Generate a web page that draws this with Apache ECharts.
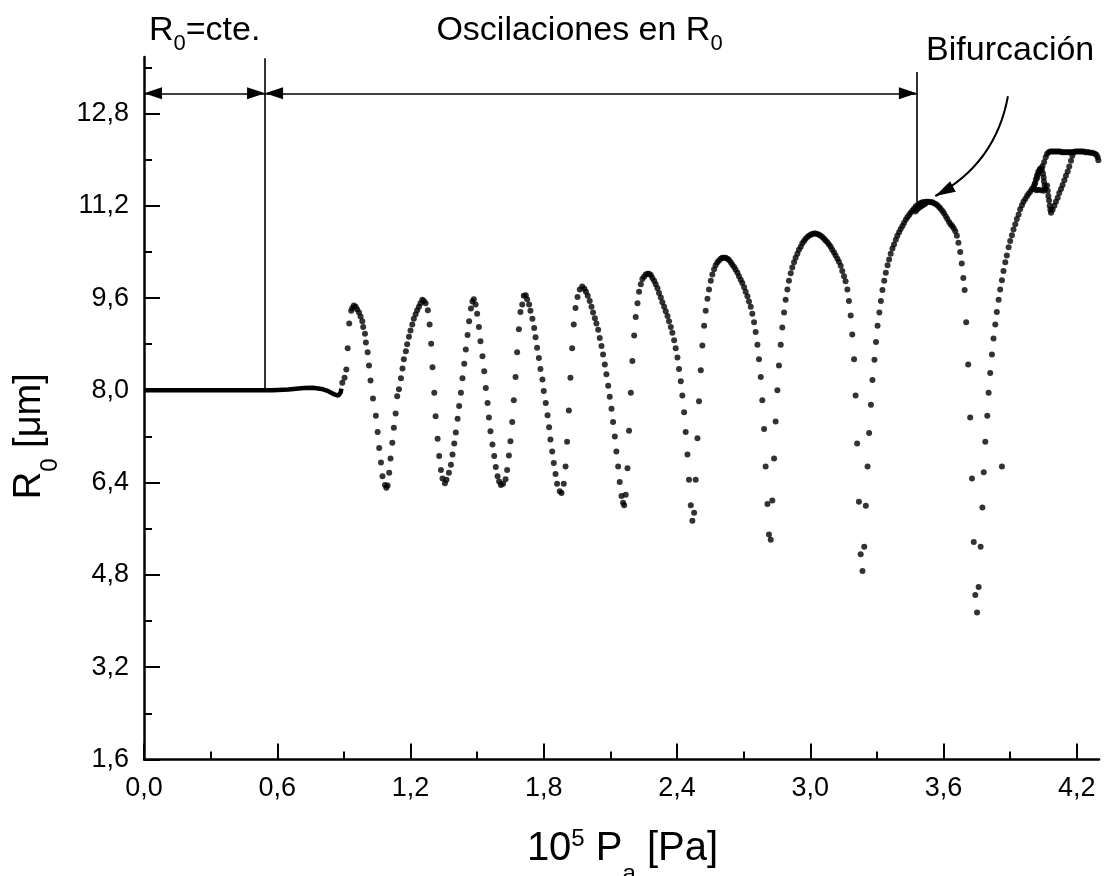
<!DOCTYPE html>
<html>
<head>
<meta charset="utf-8">
<title>R0 vs Pa</title>
<script src="https://cdn.jsdelivr.net/npm/echarts@6.0.0/dist/echarts.min.js"></script>
<style>
html,body{margin:0;padding:0;background:#ffffff;}
#chart{width:1108px;height:876px;}
</style>
</head>
<body>
<div id="chart"></div>
<script>
// ---------- tick values ----------
const xTicks = [0, 0.6, 1.2, 1.8, 2.4, 3.0, 3.6, 4.2];
const xMinorTicks = [0.3, 0.9, 1.5, 2.1, 2.7, 3.3, 3.9];
const yTicks = [1.6, 3.2, 4.8, 6.4, 8.0, 9.6, 11.2, 12.8];
const yMinorTicks = [2.4, 4.0, 5.6, 7.2, 8.8, 10.4, 12.0, 13.6];

// ---------- data (10^5 Pa, R0 in um) ----------
// dense region before the oscillations (points merge into a thick line)
const flatCurve = [[0,8.0],[0.2,8.0],[0.4,8.0],[0.545,8.0],[0.58,8.0],[0.65,8.015],[0.72,8.04],[0.76,8.045],[0.80,8.025],[0.83,7.985],[0.86,7.925],[0.875,7.91],[0.885,7.96],[0.889,8.03]];

const dotsA = [[0.893,8.13],[0.903,8.22],[0.911,8.36],[0.917,8.73],[0.924,9.16],[0.933,9.38],[0.938,9.43],[0.945,9.47],[0.953,9.45],[0.960,9.40],[0.968,9.35],[0.975,9.28],[0.983,9.20],[0.987,9.10],[0.995,8.98],[0.999,8.83],[1.007,8.66],[1.013,8.43],[1.020,8.17],[1.031,7.86],[1.044,7.56],[1.052,7.28],[1.059,7.00],[1.067,6.75],[1.074,6.51],[1.085,6.36],[1.091,6.31],[1.097,6.35],[1.104,6.57],[1.110,6.82],[1.118,7.09],[1.125,7.35],[1.133,7.60],[1.140,7.90],[1.148,8.02],[1.157,8.21],[1.164,8.38],[1.170,8.54],[1.179,8.68],[1.185,8.80],[1.193,8.93],[1.200,9.04],[1.208,9.14],[1.215,9.24],[1.223,9.32],[1.230,9.39],[1.238,9.45],[1.245,9.51],[1.253,9.57],[1.260,9.55],[1.268,9.51],[1.278,9.39],[1.286,9.14],[1.293,8.81],[1.299,8.40],[1.307,7.96],[1.313,7.55],[1.322,7.16],[1.329,6.86],[1.337,6.62],[1.344,6.47],[1.355,6.39],[1.362,6.45],[1.373,6.57],[1.382,6.71],[1.389,6.89],[1.397,7.08],[1.404,7.27],[1.412,7.51],[1.419,7.73],[1.427,7.96],[1.434,8.21],[1.442,8.46],[1.449,8.71],[1.457,8.96],[1.464,9.20],[1.472,9.42],[1.479,9.54],[1.485,9.58],[1.493,9.49]];

const dotsB = [[1.500,9.33],[1.508,9.10],[1.515,8.85],[1.524,8.59],[1.532,8.33],[1.539,8.04],[1.547,7.78],[1.553,7.53],[1.560,7.29],[1.569,7.06],[1.577,6.86],[1.584,6.67],[1.592,6.51],[1.599,6.42],[1.607,6.36],[1.617,6.38],[1.628,6.46],[1.635,6.62],[1.643,6.87],[1.650,7.12],[1.658,7.45],[1.665,7.83],[1.673,8.23],[1.680,8.66],[1.688,9.06],[1.695,9.36],[1.703,9.49],[1.710,9.64],[1.719,9.65],[1.725,9.58],[1.734,9.49],[1.740,9.38],[1.749,9.24],[1.757,9.08],[1.763,8.92],[1.770,8.74],[1.778,8.56],[1.785,8.37],[1.794,8.19],[1.800,7.99],[1.809,7.78],[1.817,7.57],[1.824,7.36],[1.830,7.15],[1.838,6.94],[1.845,6.74],[1.853,6.55],[1.860,6.38],[1.872,6.25],[1.880,6.22],[1.890,6.38],[1.898,6.68],[1.905,7.11],[1.913,7.65],[1.920,8.22],[1.928,8.73],[1.935,9.14],[1.943,9.43],[1.952,9.62],[1.962,9.75],[1.973,9.80],[1.983,9.76]];

const dotsC = [[1.990,9.71],[1.998,9.64],[2.007,9.55],[2.015,9.45],[2.022,9.35],[2.030,9.25],[2.037,9.16],[2.045,9.05],[2.052,8.91],[2.060,8.77],[2.067,8.62],[2.075,8.45],[2.082,8.28],[2.090,8.08],[2.097,7.89],[2.105,7.68],[2.112,7.45],[2.120,7.20],[2.127,6.94],[2.135,6.68],[2.142,6.41],[2.150,6.17],[2.157,6.05],[2.162,6.01],[2.169,6.19],[2.177,6.65],[2.184,7.30],[2.192,7.96],[2.199,8.51],[2.207,8.95],[2.214,9.27],[2.222,9.51],[2.229,9.71],[2.237,9.84],[2.244,9.93],[2.252,9.97],[2.259,10.01],[2.267,10.02],[2.274,10.02],[2.282,10.00],[2.289,9.95],[2.297,9.90],[2.304,9.84],[2.312,9.77],[2.319,9.69],[2.327,9.61],[2.334,9.53],[2.342,9.45],[2.349,9.37],[2.357,9.29],[2.364,9.20],[2.372,9.10],[2.379,9.00],[2.387,8.87],[2.394,8.73],[2.402,8.57],[2.409,8.37],[2.417,8.16],[2.424,7.91],[2.432,7.62],[2.439,7.28],[2.447,6.89],[2.454,6.45],[2.462,6.01],[2.469,5.74],[2.477,5.88],[2.484,6.45],[2.492,7.17],[2.499,7.81],[2.507,8.35],[2.514,8.78],[2.522,9.12],[2.529,9.38],[2.537,9.59],[2.544,9.75],[2.552,9.90],[2.559,10.01],[2.567,10.10],[2.574,10.17],[2.582,10.22],[2.589,10.25],[2.597,10.28],[2.604,10.30]];

const dotsD = [[2.612,10.30],[2.619,10.30],[2.627,10.28],[2.634,10.26],[2.642,10.22],[2.649,10.18],[2.657,10.14],[2.664,10.09],[2.672,10.04],[2.679,9.98],[2.687,9.92],[2.694,9.86],[2.702,9.79],[2.709,9.71],[2.717,9.63],[2.724,9.54],[2.732,9.45],[2.739,9.33],[2.747,9.18],[2.754,9.01],[2.762,8.79],[2.769,8.54],[2.777,8.23],[2.784,7.83],[2.792,7.33],[2.799,6.68],[2.807,6.03],[2.814,5.50],[2.822,5.41],[2.829,6.09],[2.837,6.82],[2.844,7.46],[2.852,8.00],[2.859,8.43],[2.867,8.79],[2.874,9.09],[2.882,9.35],[2.889,9.57],[2.897,9.75],[2.904,9.90],[2.912,10.03],[2.919,10.13],[2.927,10.22],[2.934,10.30],[2.942,10.37],[2.949,10.44],[2.957,10.49],[2.964,10.55],[2.972,10.59],[2.979,10.63],[2.987,10.66],[2.994,10.68],[3.002,10.70],[3.009,10.71],[3.017,10.72],[3.024,10.72],[3.032,10.71],[3.039,10.70],[3.047,10.68],[3.054,10.66],[3.062,10.63],[3.069,10.60],[3.077,10.57],[3.084,10.53],[3.092,10.49],[3.099,10.44],[3.107,10.39],[3.114,10.34],[3.122,10.28],[3.129,10.23],[3.137,10.16],[3.144,10.07],[3.152,9.98],[3.159,9.89],[3.167,9.75],[3.174,9.55],[3.182,9.30],[3.189,8.97],[3.197,8.54],[3.204,7.91],[3.211,7.08],[3.219,6.07],[3.227,5.16],[3.235,4.87],[3.243,5.29],[3.250,6.00],[3.258,6.68],[3.265,7.26],[3.273,7.75],[3.280,8.18],[3.289,8.53],[3.296,8.84]];

const dotsE = [[3.303,9.12],[3.311,9.35],[3.318,9.55],[3.325,9.74],[3.333,9.90],[3.340,10.04],[3.348,10.17],[3.355,10.27],[3.362,10.37],[3.370,10.46],[3.377,10.53],[3.385,10.61],[3.392,10.68],[3.400,10.74],[3.407,10.80],[3.415,10.85],[3.422,10.90],[3.430,10.96],[3.437,11.00],[3.445,11.04],[3.452,11.08],[3.460,11.12],[3.467,11.15],[3.475,11.19],[3.482,11.21],[3.490,11.23],[3.497,11.25],[3.505,11.26],[3.512,11.26],[3.520,11.27],[3.527,11.27],[3.535,11.27],[3.542,11.26],[3.550,11.26],[3.557,11.245],[3.565,11.23],[3.572,11.21],[3.580,11.18],[3.587,11.15],[3.595,11.11],[3.602,11.07],[3.610,11.02],[3.617,10.97],[3.625,10.92],[3.632,10.88],[3.639,10.85],[3.646,10.81],[3.653,10.76],[3.660,10.68],[3.667,10.56],[3.675,10.40],[3.682,10.20],[3.689,9.95],[3.695,9.74],[3.702,9.18],[3.711,8.45],[3.720,7.53],[3.728,6.47],[3.736,5.37],[3.743,4.45],[3.751,4.15],[3.758,4.59],[3.767,5.29],[3.775,5.97],[3.781,6.58],[3.788,7.11],[3.797,7.56],[3.803,7.96],[3.810,8.30],[3.818,8.62],[3.825,8.90],[3.833,9.14],[3.840,9.36],[3.848,9.57],[3.855,9.75],[3.863,9.91],[3.870,10.07],[3.878,10.22],[3.885,10.34],[3.893,10.48],[3.900,10.59],[3.908,10.69],[3.915,10.79],[3.923,10.88],[3.930,10.97],[3.938,11.05],[3.945,11.14],[3.953,11.21],[3.960,11.27],[3.863,6.68]];

// upper branch after the bifurcation
const dotsF = [[3.968,11.32],[3.976,11.37],[3.983,11.41],[3.991,11.45],[3.998,11.49],[4.006,11.53],[4.013,11.60],[4.021,11.68],[4.027,11.75],[4.033,11.81],[4.039,11.85],[4.046,11.89],[4.053,11.96],[4.060,12.04],[4.066,12.10],[4.073,12.13],[4.081,12.14],[4.088,12.14],[4.096,12.14],[4.103,12.14],[4.111,12.14],[4.118,12.14],[4.126,12.14],[4.133,12.13],[4.141,12.13],[4.148,12.13],[4.156,12.13],[4.163,12.13],[4.171,12.13],[4.178,12.13],[4.186,12.13],[4.193,12.14],[4.201,12.14],[4.208,12.14],[4.216,12.14],[4.223,12.14],[4.231,12.14],[4.238,12.13],[4.246,12.13],[4.253,12.13],[4.261,12.12],[4.268,12.12],[4.276,12.11],[4.283,12.10],[4.289,12.08],[4.294,12.04],[4.297,11.99]];

// second branch near the "Bifurcacion" maximum
const bifurcationBranch = [[3.473,11.10],[3.480,11.13],[3.488,11.16],[3.495,11.18],[3.503,11.20],[3.510,11.22],[3.518,11.235]];

// loop and V-shaped lower branch near 4.0-4.2
const loopBranch = [[4.006,11.49],[4.010,11.575],[4.016,11.66],[4.021,11.73],[4.027,11.795],[4.034,11.836],[4.043,11.824],[4.048,11.76],[4.051,11.69],[4.052,11.62],[4.055,11.55],[4.058,11.49],[4.051,11.46],[4.039,11.47],[4.028,11.48],[4.018,11.47],[4.066,11.55],[4.069,11.46],[4.072,11.37],[4.075,11.29],[4.078,11.20],[4.081,11.13],[4.084,11.08],[4.091,11.13],[4.099,11.20],[4.106,11.27],[4.114,11.34],[4.121,11.42],[4.129,11.49],[4.136,11.56],[4.144,11.645],[4.151,11.72],[4.159,11.795],[4.166,11.88],[4.174,11.98],[4.180,12.07],[4.183,12.125]];

// ---------- annotation geometry (data units) ----------
const constLimit = 0.545, bifLimit = 3.48, arrowY = 13.15;
const bifArrow = [[3.89, 13.10], [3.563, 11.37]];

const FONT = "'Liberation Sans', Arial, Helvetica, sans-serif";
const fmt = v => v.toFixed(1).replace('.', ',');
// arrow head whose tip sits at the symbol centre
const ARROW_HEAD = 'path://M0,0 L6,20 L-6,20 Z M0,-20';

const chart = echarts.init(document.getElementById('chart'), null, {renderer: 'canvas'});

const axisCommon = {
  axisLine: {show: true, onZero: false, lineStyle: {color: '#000', width: 2.5}},
  splitLine: {show: false},
  minorTick: {show: false}
};

const dotStyle = {symbol: 'circle', symbolSize: 6, itemStyle: {color: '#000'}, silent: true, animation: false};

const series = [
  {type: 'line', data: flatCurve, showSymbol: false, symbol: 'none', lineStyle: {color: '#000', width: 4.5}, smooth: false, silent: true, animation: false, z: 3}
].concat([dotsA, dotsB, dotsC, dotsD, dotsE, dotsF, bifurcationBranch, loopBranch].map(d => Object.assign({type: 'scatter', data: d, z: 3}, dotStyle)));

// annotation lines
series.push({
  type: 'line', data: [], silent: true, animation: false,
  markLine: {
    silent: true, animation: false, symbol: ['none', 'none'], label: {show: false},
    lineStyle: {color: '#000', width: 1.6, type: 'solid'},
    data: [
      [{coord: [constLimit, 13.76]}, {coord: [constLimit, 8.0]}],
      [{coord: [bifLimit, 13.52]}, {coord: [bifLimit, 11.26]}]
    ]
  }
});
series.push({
  type: 'line', data: [], silent: true, animation: false,
  markLine: {
    silent: true, animation: false, symbol: ['triangle', 'triangle'], symbolSize: [12, 18],
    symbolOffset: [[0, 9], [0, 9]], label: {show: false},
    lineStyle: {color: '#000', width: 1.6, type: 'solid'},
    itemStyle: {color: '#000'},
    data: [
      [{coord: [0, arrowY]}, {coord: [constLimit, arrowY]}],
      [{coord: [constLimit, arrowY]}, {coord: [bifLimit, arrowY]}]
    ]
  }
});
// curved arrow pointing at the bifurcation
series.push({
  type: 'lines', coordinateSystem: 'cartesian2d', silent: true, animation: false, z: 5,
  symbol: ['none', ARROW_HEAD], symbolSize: [[1, 1], [12, 40]],
  lineStyle: {color: '#000', width: 2, curveness: 0.24, opacity: 1},
  itemStyle: {color: '#000'},
  data: [{coords: bifArrow}]
});

chart.setOption({
  animation: false,
  backgroundColor: '#ffffff',
  grid: {left: 144, right: 9, top: 57, bottom: 116.5, containLabel: false},
  xAxis: [
    Object.assign({}, axisCommon, {
      type: 'value', min: 0, max: 4.3, position: 'bottom',
      axisTick: {show: true, inside: true, length: 16, customValues: xTicks, lineStyle: {color: '#000', width: 2}},
      axisLabel: {show: true, customValues: xTicks, formatter: fmt, color: '#000', fontSize: 27, fontFamily: FONT, margin: 16}
    }),
    {
      type: 'value', min: 0, max: 4.3, position: 'bottom',
      axisLine: {show: false, onZero: false}, splitLine: {show: false},
      axisLabel: {show: false},
      axisTick: {show: true, inside: true, length: 8, customValues: xMinorTicks, lineStyle: {color: '#000', width: 2}}
    }
  ],
  yAxis: [
    Object.assign({}, axisCommon, {
      type: 'value', min: 1.6, max: 13.78, position: 'left',
      axisTick: {show: true, inside: true, length: 16, customValues: yTicks, lineStyle: {color: '#000', width: 2}},
      axisLabel: {show: true, customValues: yTicks, formatter: fmt, color: '#000', fontSize: 27, fontFamily: FONT, margin: 15}
    }),
    {
      type: 'value', min: 1.6, max: 13.78, position: 'left', offset: 0,
      axisLine: {show: false, onZero: false}, splitLine: {show: false},
      axisLabel: {show: false},
      axisTick: {show: true, inside: true, length: 8, customValues: yMinorTicks, lineStyle: {color: '#000', width: 2}}
    }
  ],
  series: series
});

// ---------- texts ----------
function rt(x, y, text, rich, rotation) {
  return {
    type: 'text', x: x, y: y, rotation: rotation || 0, silent: true, z: 10,
    style: {text: text, rich: rich, fill: '#000', fontFamily: FONT, fontSize: 34,
      align: 'center', verticalAlign: 'middle', textAlign: 'center', textVerticalAlign: 'middle'}
  };
}
function richSet(main, sub, subPad, extra) {
  const r = {
    m: {fontSize: main, fontFamily: FONT, fill: '#000'},
    s: {fontSize: sub, fontFamily: FONT, fill: '#000', padding: [subPad, 0, 0, 0]}
  };
  return Object.assign(r, extra || {});
}
const toPx = (x, y) => chart.convertToPixel({xAxisIndex: 0, yAxisIndex: 0}, [x, y]);
const rect = chart.getModel().getComponent('grid', 0).coordinateSystem.getRect();

const pCte = toPx(0.273, 14.233);
const pOsc = toPx(1.961, 14.233);
const pBif = toPx(3.90, 13.886);

chart.setOption({
  graphic: [
    rt(pCte[0], pCte[1], '{m|R}{s|0}{m|=cte.}', richSet(34, 22, 26)),
    rt(pOsc[0], pOsc[1], '{m|Oscilaciones en R}{s|0}', richSet(34, 22, 26)),
    rt(pBif[0], pBif[1], '{m|Bifurcación}', richSet(34, 22, 26)),
    rt(rect.x + rect.width / 2 + 1, rect.y + rect.height + 89.5,
      '{m|10}{p|5}{m| P}{s|a}{m| [Pa]}',
      richSet(40, 24, 50, {p: {fontSize: 24, fontFamily: FONT, fill: '#000', padding: [0, 0, 20, 0]}})),
    rt(rect.x - 114, rect.y + rect.height / 2 + 28,
      '{m|R}{s|0}{m| [μm]}', richSet(38, 24, 40), Math.PI / 2)
  ]
});
</script>
</body>
</html>
